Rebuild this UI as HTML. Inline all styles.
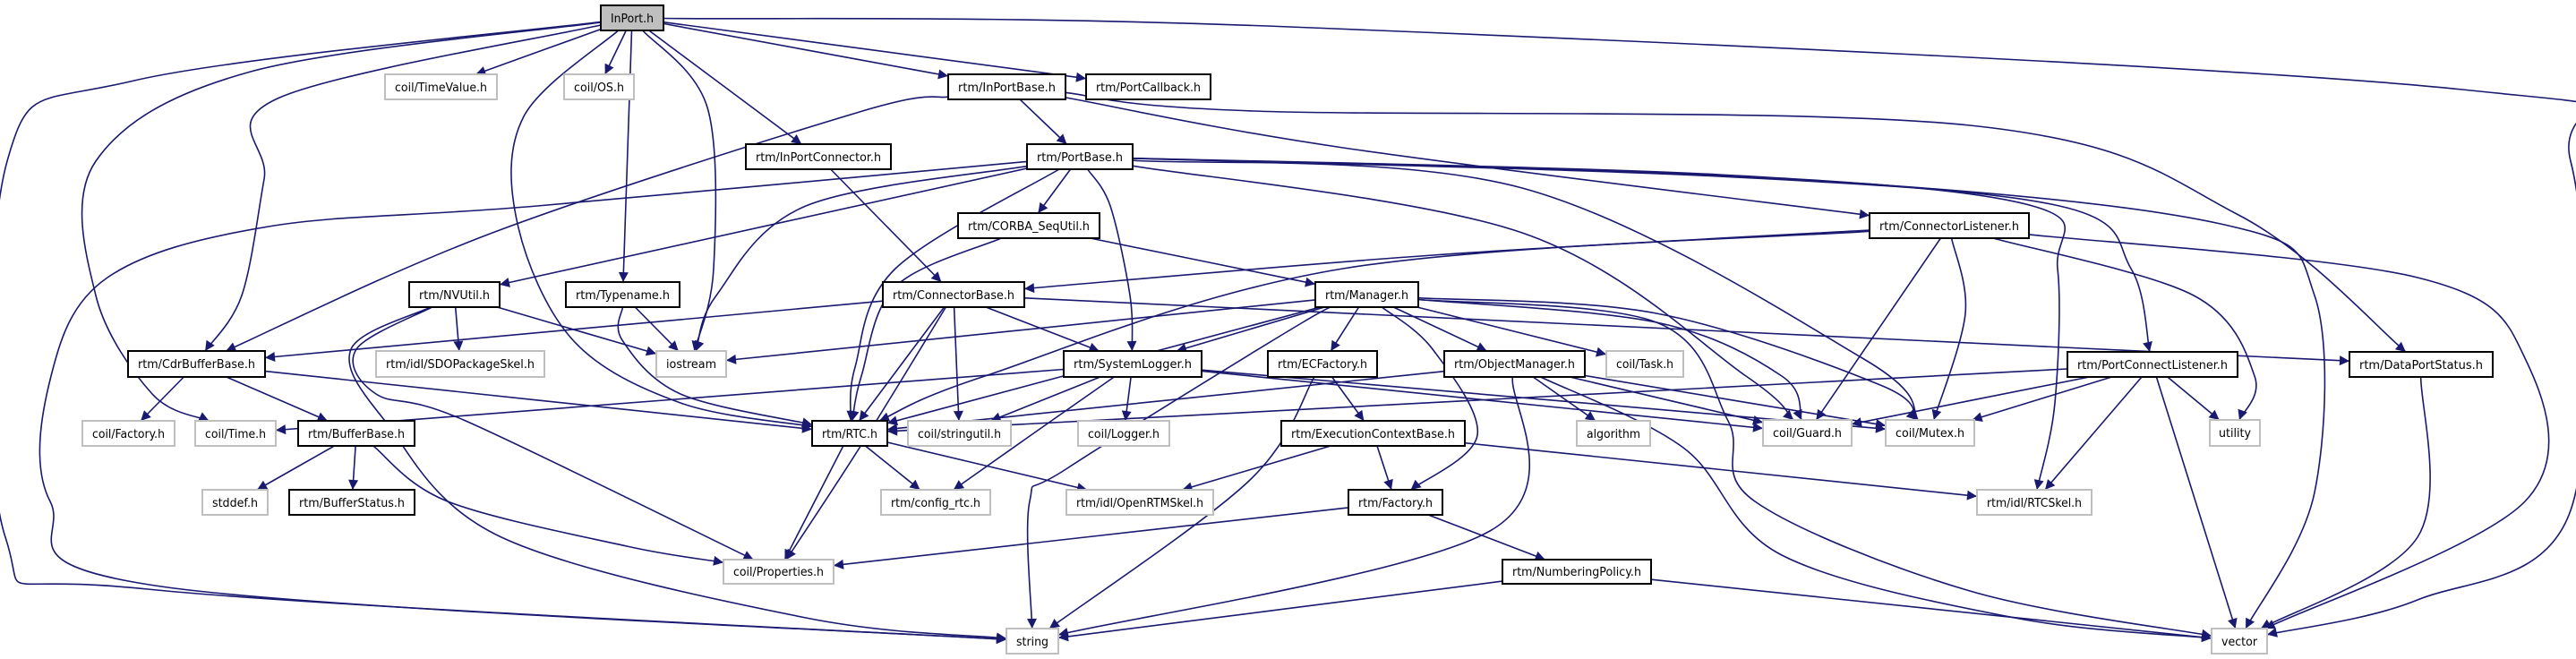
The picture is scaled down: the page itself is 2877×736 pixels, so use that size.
<!DOCTYPE html>
<html><head><meta charset="utf-8">
<style>
html,body{margin:0;padding:0;background:#fff;}
svg{display:block;}
text{font-family:"DejaVu Sans","Liberation Sans",sans-serif;font-size:13px;fill:#000;}
</style></head>
<body>
<svg id="g" width="2877" height="736" viewBox="0 0 2877 736" xmlns="http://www.w3.org/2000/svg">
<defs>
<marker id="ah" viewBox="0 0 10 10" refX="10" refY="5" markerWidth="14" markerHeight="11" markerUnits="userSpaceOnUse" orient="auto">
<path d="M0,0 L10,5 L0,10 z" fill="#191970"/>
</marker>
</defs>
<g id="edges" fill="none" stroke="#191970" stroke-width="1.6"></g>
<g id="nodes">
<rect id="inport" x="671" y="6" width="70" height="28" fill="#bfbfbf" stroke="#000" stroke-width="2"/><text x="706" y="25" text-anchor="middle" textLength="48" lengthAdjust="spacingAndGlyphs">InPort.h</text>
<rect id="timevalue" x="430" y="83" width="125" height="28" fill="#fff" stroke="#bfbfbf" stroke-width="2"/><text x="492.5" y="102" text-anchor="middle" textLength="103" lengthAdjust="spacingAndGlyphs">coil/TimeValue.h</text>
<rect id="os" x="630" y="83" width="78" height="28" fill="#fff" stroke="#bfbfbf" stroke-width="2"/><text x="669" y="102" text-anchor="middle" textLength="56" lengthAdjust="spacingAndGlyphs">coil/OS.h</text>
<rect id="inportbase" x="1059" y="83" width="131" height="28" fill="#fff" stroke="#000" stroke-width="2"/><text x="1124.5" y="102" text-anchor="middle" textLength="109" lengthAdjust="spacingAndGlyphs">rtm/InPortBase.h</text>
<rect id="portcallback" x="1213" y="83" width="139" height="28" fill="#fff" stroke="#000" stroke-width="2"/><text x="1282.5" y="102" text-anchor="middle" textLength="117" lengthAdjust="spacingAndGlyphs">rtm/PortCallback.h</text>
<rect id="inportconn" x="833" y="161" width="162" height="28" fill="#fff" stroke="#000" stroke-width="2"/><text x="914" y="180" text-anchor="middle" textLength="140" lengthAdjust="spacingAndGlyphs">rtm/InPortConnector.h</text>
<rect id="portbase" x="1147" y="161" width="118" height="28" fill="#fff" stroke="#000" stroke-width="2"/><text x="1206" y="180" text-anchor="middle" textLength="96" lengthAdjust="spacingAndGlyphs">rtm/PortBase.h</text>
<rect id="corba" x="1070" y="238" width="158" height="28" fill="#fff" stroke="#000" stroke-width="2"/><text x="1149" y="257" text-anchor="middle" textLength="136" lengthAdjust="spacingAndGlyphs">rtm/CORBA_SeqUtil.h</text>
<rect id="connlistener" x="2088" y="238" width="178" height="28" fill="#fff" stroke="#000" stroke-width="2"/><text x="2177" y="257" text-anchor="middle" textLength="156" lengthAdjust="spacingAndGlyphs">rtm/ConnectorListener.h</text>
<rect id="nvutil" x="457" y="315" width="101" height="28" fill="#fff" stroke="#000" stroke-width="2"/><text x="507.5" y="334" text-anchor="middle" textLength="79" lengthAdjust="spacingAndGlyphs">rtm/NVUtil.h</text>
<rect id="typename" x="632" y="315" width="127" height="28" fill="#fff" stroke="#000" stroke-width="2"/><text x="695.5" y="334" text-anchor="middle" textLength="105" lengthAdjust="spacingAndGlyphs">rtm/Typename.h</text>
<rect id="connbase" x="986" y="315" width="158" height="28" fill="#fff" stroke="#000" stroke-width="2"/><text x="1065" y="334" text-anchor="middle" textLength="136" lengthAdjust="spacingAndGlyphs">rtm/ConnectorBase.h</text>
<rect id="manager" x="1469" y="315" width="115" height="28" fill="#fff" stroke="#000" stroke-width="2"/><text x="1526.5" y="334" text-anchor="middle" textLength="93" lengthAdjust="spacingAndGlyphs">rtm/Manager.h</text>
<rect id="cdr" x="143" y="392" width="153" height="29" fill="#fff" stroke="#000" stroke-width="2"/><text x="219.5" y="411" text-anchor="middle" textLength="131" lengthAdjust="spacingAndGlyphs">rtm/CdrBufferBase.h</text>
<rect id="sdo" x="420" y="392" width="188" height="29" fill="#fff" stroke="#bfbfbf" stroke-width="2"/><text x="514" y="411" text-anchor="middle" textLength="166" lengthAdjust="spacingAndGlyphs">rtm/idl/SDOPackageSkel.h</text>
<rect id="iostream" x="733" y="392" width="78" height="29" fill="#fff" stroke="#bfbfbf" stroke-width="2"/><text x="772" y="411" text-anchor="middle" textLength="56" lengthAdjust="spacingAndGlyphs">iostream</text>
<rect id="syslog" x="1188" y="392" width="154" height="29" fill="#fff" stroke="#000" stroke-width="2"/><text x="1265" y="411" text-anchor="middle" textLength="132" lengthAdjust="spacingAndGlyphs">rtm/SystemLogger.h</text>
<rect id="ecfactory" x="1416" y="392" width="122" height="29" fill="#fff" stroke="#000" stroke-width="2"/><text x="1477" y="411" text-anchor="middle" textLength="100" lengthAdjust="spacingAndGlyphs">rtm/ECFactory.h</text>
<rect id="objmgr" x="1613" y="392" width="157" height="29" fill="#fff" stroke="#000" stroke-width="2"/><text x="1691.5" y="411" text-anchor="middle" textLength="135" lengthAdjust="spacingAndGlyphs">rtm/ObjectManager.h</text>
<rect id="task" x="1794" y="392" width="86" height="29" fill="#fff" stroke="#bfbfbf" stroke-width="2"/><text x="1837" y="411" text-anchor="middle" textLength="64" lengthAdjust="spacingAndGlyphs">coil/Task.h</text>
<rect id="dps" x="2624" y="393" width="160" height="28" fill="#fff" stroke="#000" stroke-width="2"/><text x="2704" y="412" text-anchor="middle" textLength="138" lengthAdjust="spacingAndGlyphs">rtm/DataPortStatus.h</text>
<rect id="pcl" x="2309" y="393" width="190" height="28" fill="#fff" stroke="#000" stroke-width="2"/><text x="2404" y="412" text-anchor="middle" textLength="168" lengthAdjust="spacingAndGlyphs">rtm/PortConnectListener.h</text>
<rect id="cfactory" x="92" y="470" width="103" height="28" fill="#fff" stroke="#bfbfbf" stroke-width="2"/><text x="143.5" y="489" text-anchor="middle" textLength="81" lengthAdjust="spacingAndGlyphs">coil/Factory.h</text>
<rect id="ctime" x="218" y="470" width="90" height="28" fill="#fff" stroke="#bfbfbf" stroke-width="2"/><text x="263" y="489" text-anchor="middle" textLength="68" lengthAdjust="spacingAndGlyphs">coil/Time.h</text>
<rect id="bufbase" x="333" y="470" width="130" height="28" fill="#fff" stroke="#000" stroke-width="2"/><text x="398" y="489" text-anchor="middle" textLength="108" lengthAdjust="spacingAndGlyphs">rtm/BufferBase.h</text>
<rect id="rtc" x="907" y="470" width="84" height="28" fill="#fff" stroke="#000" stroke-width="2"/><text x="949" y="489" text-anchor="middle" textLength="62" lengthAdjust="spacingAndGlyphs">rtm/RTC.h</text>
<rect id="strutil" x="1014" y="470" width="115" height="28" fill="#fff" stroke="#bfbfbf" stroke-width="2"/><text x="1071.5" y="489" text-anchor="middle" textLength="93" lengthAdjust="spacingAndGlyphs">coil/stringutil.h</text>
<rect id="logger" x="1204" y="470" width="102" height="28" fill="#fff" stroke="#bfbfbf" stroke-width="2"/><text x="1255" y="489" text-anchor="middle" textLength="80" lengthAdjust="spacingAndGlyphs">coil/Logger.h</text>
<rect id="ecbase" x="1431" y="470" width="205" height="28" fill="#fff" stroke="#000" stroke-width="2"/><text x="1533.5" y="489" text-anchor="middle" textLength="183" lengthAdjust="spacingAndGlyphs">rtm/ExecutionContextBase.h</text>
<rect id="algorithm" x="1761" y="470" width="82" height="28" fill="#fff" stroke="#bfbfbf" stroke-width="2"/><text x="1802" y="489" text-anchor="middle" textLength="60" lengthAdjust="spacingAndGlyphs">algorithm</text>
<rect id="guard" x="1969" y="469" width="99" height="29" fill="#fff" stroke="#bfbfbf" stroke-width="2"/><text x="2018.5" y="488" text-anchor="middle" textLength="77" lengthAdjust="spacingAndGlyphs">coil/Guard.h</text>
<rect id="mutex" x="2106" y="469" width="99" height="29" fill="#fff" stroke="#bfbfbf" stroke-width="2"/><text x="2155.5" y="488" text-anchor="middle" textLength="77" lengthAdjust="spacingAndGlyphs">coil/Mutex.h</text>
<rect id="utility" x="2468" y="469" width="56" height="29" fill="#fff" stroke="#bfbfbf" stroke-width="2"/><text x="2496" y="488" text-anchor="middle" textLength="36" lengthAdjust="spacingAndGlyphs">utility</text>
<rect id="stddef" x="226" y="547" width="73" height="28" fill="#fff" stroke="#bfbfbf" stroke-width="2"/><text x="262.5" y="566" text-anchor="middle" textLength="51" lengthAdjust="spacingAndGlyphs">stddef.h</text>
<rect id="bufstatus" x="323" y="547" width="140" height="28" fill="#fff" stroke="#000" stroke-width="2"/><text x="393" y="566" text-anchor="middle" textLength="118" lengthAdjust="spacingAndGlyphs">rtm/BufferStatus.h</text>
<rect id="configrtc" x="984" y="547" width="122" height="28" fill="#fff" stroke="#bfbfbf" stroke-width="2"/><text x="1045" y="566" text-anchor="middle" textLength="100" lengthAdjust="spacingAndGlyphs">rtm/config_rtc.h</text>
<rect id="openrtm" x="1191" y="547" width="164" height="28" fill="#fff" stroke="#bfbfbf" stroke-width="2"/><text x="1273" y="566" text-anchor="middle" textLength="142" lengthAdjust="spacingAndGlyphs">rtm/idl/OpenRTMSkel.h</text>
<rect id="factory" x="1506" y="547" width="105" height="28" fill="#fff" stroke="#000" stroke-width="2"/><text x="1558.5" y="566" text-anchor="middle" textLength="83" lengthAdjust="spacingAndGlyphs">rtm/Factory.h</text>
<rect id="rtcskel" x="2208" y="547" width="128" height="28" fill="#fff" stroke="#bfbfbf" stroke-width="2"/><text x="2272" y="566" text-anchor="middle" textLength="106" lengthAdjust="spacingAndGlyphs">rtm/idl/RTCSkel.h</text>
<rect id="properties" x="808" y="625" width="123" height="27" fill="#fff" stroke="#bfbfbf" stroke-width="2"/><text x="869.5" y="643" text-anchor="middle" textLength="101" lengthAdjust="spacingAndGlyphs">coil/Properties.h</text>
<rect id="numpol" x="1678" y="625" width="166" height="27" fill="#fff" stroke="#000" stroke-width="2"/><text x="1761" y="643" text-anchor="middle" textLength="144" lengthAdjust="spacingAndGlyphs">rtm/NumberingPolicy.h</text>
<rect id="string" x="1124" y="702" width="58" height="28" fill="#fff" stroke="#bfbfbf" stroke-width="2"/><text x="1153" y="721" text-anchor="middle" textLength="36" lengthAdjust="spacingAndGlyphs">string</text>
<rect id="vector" x="2470" y="702" width="62" height="28" fill="#fff" stroke="#bfbfbf" stroke-width="2"/><text x="2501" y="721" text-anchor="middle" textLength="40" lengthAdjust="spacingAndGlyphs">vector</text>
</g>
</svg>
<script>
(function(){
var E=[
["inport","timevalue"],["inport","os"],["inport","inportconn"],["inport","inportbase"],["inport","portcallback"],["inport","typename"],
["inport","iostream",[[790,120],[797,300]]],
["inport","rtc",[[585,130],[578,250],[640,380],[760,450]]],
["inport","string",[[150,90],[8,180],[6,600],[165,658]]],
["inport","ctime",[[280,80],[107,180],[107,330],[170,440]]],
["inport","cdr",[[310,110],[295,200],[270,330]]],
["inport","vector",[[1440,30],[2750,100],[2871,180],[2871,570],[2700,670]]],
["inportbase","cdr",[[960,125],[550,260]]],
["inportbase","portbase"],
["inportbase","connlistener",[[1500,165]]],
["inportbase","dps",[[1400,124],[2200,140],[2500,240]]],
["inportconn","connbase"],
["portbase","string",[[600,230],[300,253],[120,310],[57,420],[56,560],[180,655]]],
["portbase","iostream",[[900,230],[800,330]]],
["portbase","nvutil"],
["portbase","rtc",[[1000,300],[955,410]]],
["portbase","corba"],
["portbase","syslog",[[1240,230],[1262,330]]],
["portbase","guard",[[1700,260],[1950,420]]],
["portbase","mutex",[[1700,210],[2080,400]]],
["portbase","vector",[[2000,200],[2480,250],[2585,330],[2585,550]]],
["portbase","pcl",[[1920,197],[2300,230],[2380,300]]],
["portbase","rtcskel",[[1920,195],[2270,230],[2298,300],[2295,450]]],
["corba","rtc",[[1000,320],[962,420]]],
["corba","manager"],
["connlistener","connbase",[[1600,285]]],
["connlistener","rtc",[[1500,300],[1100,420]]],
["connlistener","guard"],
["connlistener","mutex",[[2195,350]]],
["connlistener","utility",[[2450,330],[2518,420]]],
["connlistener","vector",[[2700,310],[2820,400],[2820,560]]],
["nvutil","iostream"],["nvutil","sdo"],
["nvutil","properties",[[398,390],[420,440],[520,470]]],
["nvutil","string",[[392,390],[430,470],[560,600],[900,690]]],
["typename","iostream"],
["typename","rtc",[[695,380],[760,440]]],
["connbase","cdr"],["connbase","rtc"],["connbase","strutil"],["connbase","syslog"],
["connbase","properties",[[960,500]]],
["connbase","dps"],
["manager","iostream"],["manager","rtc"],["manager","syslog"],["manager","ecfactory"],["manager","objmgr"],["manager","task"],
["manager","string",[[1455,360],[1192,523],[1150,560]]],
["manager","factory",[[1600,390],[1650,486]]],
["manager","guard",[[1850,360],[1990,420]]],
["manager","mutex",[[1850,350],[2100,430]]],
["manager","vector",[[1850,360],[1930,470],[1960,560],[2200,660]]],
["syslog","ctime"],["syslog","strutil"],["syslog","logger"],
["syslog","configrtc",[[1160,480]]],
["syslog","guard"],["syslog","mutex"],
["rtc","properties"],["rtc","configrtc"],["rtc","openrtm"],
["ecfactory","ecbase"],
["ecfactory","string",[[1395,537]]],
["objmgr","rtc"],["objmgr","algorithm"],
["objmgr","string",[[1664,593]]],
["objmgr","vector",[[1880,500],[1990,620],[2250,690]]],
["objmgr","guard"],["objmgr","mutex"],
["ecbase","factory"],["ecbase","openrtm"],["ecbase","rtcskel"],
["factory","properties"],["factory","numpol"],
["numpol","string"],["numpol","vector"],
["pcl","rtc"],["pcl","guard"],["pcl","mutex"],["pcl","utility"],["pcl","rtcskel"],["pcl","vector"],
["dps","vector",[[2700,600]]],
["cdr","cfactory"],["cdr","bufbase"],["cdr","rtc"],
["bufbase","stddef"],["bufbase","bufstatus"],
["bufbase","properties",[[500,560],[700,610]]]
];
function box(id){var r=document.getElementById(id);return {x:+r.getAttribute('x'),y:+r.getAttribute('y'),w:+r.getAttribute('width'),h:+r.getAttribute('height')};}
function clip(b,p){var cx=b.x+b.w/2,cy=b.y+b.h/2,dx=p[0]-cx,dy=p[1]-cy;if(dx===0&&dy===0)return [cx,cy];
var tx=dx!==0?(b.w/2)/Math.abs(dx):1e9,ty=dy!==0?(b.h/2)/Math.abs(dy):1e9,t=Math.min(tx,ty);return [cx+dx*t,cy+dy*t];}
var g=document.getElementById('edges'),ns="http://www.w3.org/2000/svg";
E.forEach(function(e){var s=box(e[0]),t=box(e[1]),w=e[2]||[];
var sc=[s.x+s.w/2,s.y+s.h/2],tc=[t.x+t.w/2,t.y+t.h/2];
var p0=clip(s,w.length?w[0]:tc),pn=clip(t,w.length?w[w.length-1]:sc);
var P=[p0].concat(w,[pn]);var d="M"+P[0][0].toFixed(1)+","+P[0][1].toFixed(1);
for(var i=0;i<P.length-1;i++){var a=P[i-1]||P[i],b=P[i],c=P[i+1],n=P[i+2]||P[i+1];
var c1=[b[0]+(c[0]-a[0])/6,b[1]+(c[1]-a[1])/6],c2=[c[0]-(n[0]-b[0])/6,c[1]-(n[1]-b[1])/6];
d+=" C"+c1[0].toFixed(1)+","+c1[1].toFixed(1)+" "+c2[0].toFixed(1)+","+c2[1].toFixed(1)+" "+c[0].toFixed(1)+","+c[1].toFixed(1);}
var p=document.createElementNS(ns,'path');p.setAttribute('d',d);p.setAttribute('marker-end','url(#ah)');g.appendChild(p);});
})();
</script>
</body></html>
